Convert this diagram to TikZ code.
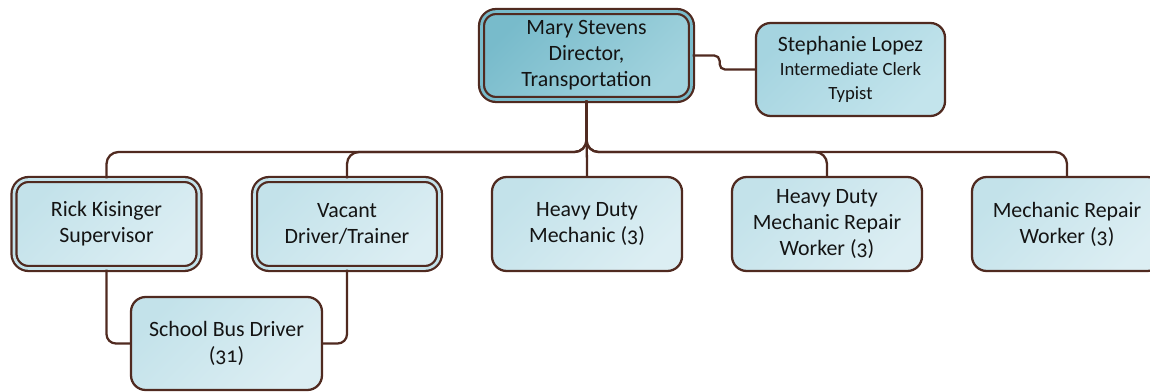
\documentclass[tikz,border=0pt]{standalone}
\usepackage{fontspec}
\setmainfont{Carlito}[Numbers=OldStyle]
\usetikzlibrary{calc}

\definecolor{edge}{HTML}{502A20}
\definecolor{ink}{HTML}{141414}
\definecolor{boxtop}{HTML}{C3E2EA}
\definecolor{boxbot}{HTML}{DCEEF3}
\definecolor{clerktop}{HTML}{A5D4E0}
\definecolor{clerkbot}{HTML}{C3E4EC}
\definecolor{headtop}{HTML}{78BBCB}
\definecolor{headbot}{HTML}{A2D3DE}

\tikzset{
    person/.style={draw=edge, line width=1.7pt, rounded corners=11pt,
        top color=boxtop, bottom color=boxbot, shading angle=45,
        minimum width=142.5pt, minimum height=70.5pt, inner sep=0pt,
        align=center, text=ink, font=\fontsize{16.4}{19.5}\selectfont},
    lead/.style={person, double=boxtop, double distance=2pt,
        minimum width=138.75pt, minimum height=66.75pt},
    head/.style={lead, top color=headtop, bottom color=headbot, shading angle=45,
        double=headtop, minimum width=157.5pt, minimum height=66pt},
    clerk/.style={person, top color=clerktop, bottom color=clerkbot, shading angle=45,
        minimum width=141.75pt, minimum height=69.75pt, font=\fontsize{16.4}{18}\selectfont},
    link/.style={draw=edge, line width=1.7pt, rounded corners=9pt},
}

\begin{document}
\begin{tikzpicture}[x=0.75pt, y=-0.75pt]
    \useasboundingbox (0,0) rectangle (1150,392);

    % Director and clerk
    \node[head] (mary) at (586.5, 55.5) {Mary Stevens\\Director,\\Transportation};
    \node[clerk] (steph) at (850.5, 69.5)
        {Stephanie Lopez\\{\fontsize{14}{18}\selectfont Intermediate Clerk}\\{\fontsize{14}{18}\selectfont Typist}};
    \draw[link, rounded corners=4pt] (mary.east) -- ++(27,0) |- (steph.west);

    % Staff
    \node[lead] (rick) at (106.5, 224) {Rick Kisinger\\Supervisor};
    \node[lead] (vacant) at (347, 224) {Vacant\\Driver/Trainer};
    \foreach \x/\name/\txt in {587/hdm/{Heavy Duty\\Mechanic (3)},
                               827/hdmrw/{Heavy Duty\\Mechanic Repair\\Worker (3)},
                               1067/mrw/{Mechanic Repair\\Worker (3)}}{
        \node[person] (\name) at (\x, 224) {\txt};
    }
    \node[person, minimum width=143.25pt, minimum height=69.75pt] (sbd) at (226.5, 343.5)
        {School Bus Driver\\(31)};

    % Connectors
    \coordinate (bus) at (586.5, 152);
    \foreach \name in {rick, vacant, hdmrw, mrw}{
        \draw[link] (mary.south) -- (bus) -| (\name.north);
    }
    \draw[link] (mary.south) -- (hdm.north);
    \draw[link, rounded corners=7pt] (rick.south) |- (sbd.west);
    \draw[link, rounded corners=7pt] (vacant.south) |- (sbd.east);
\end{tikzpicture}
\end{document}
